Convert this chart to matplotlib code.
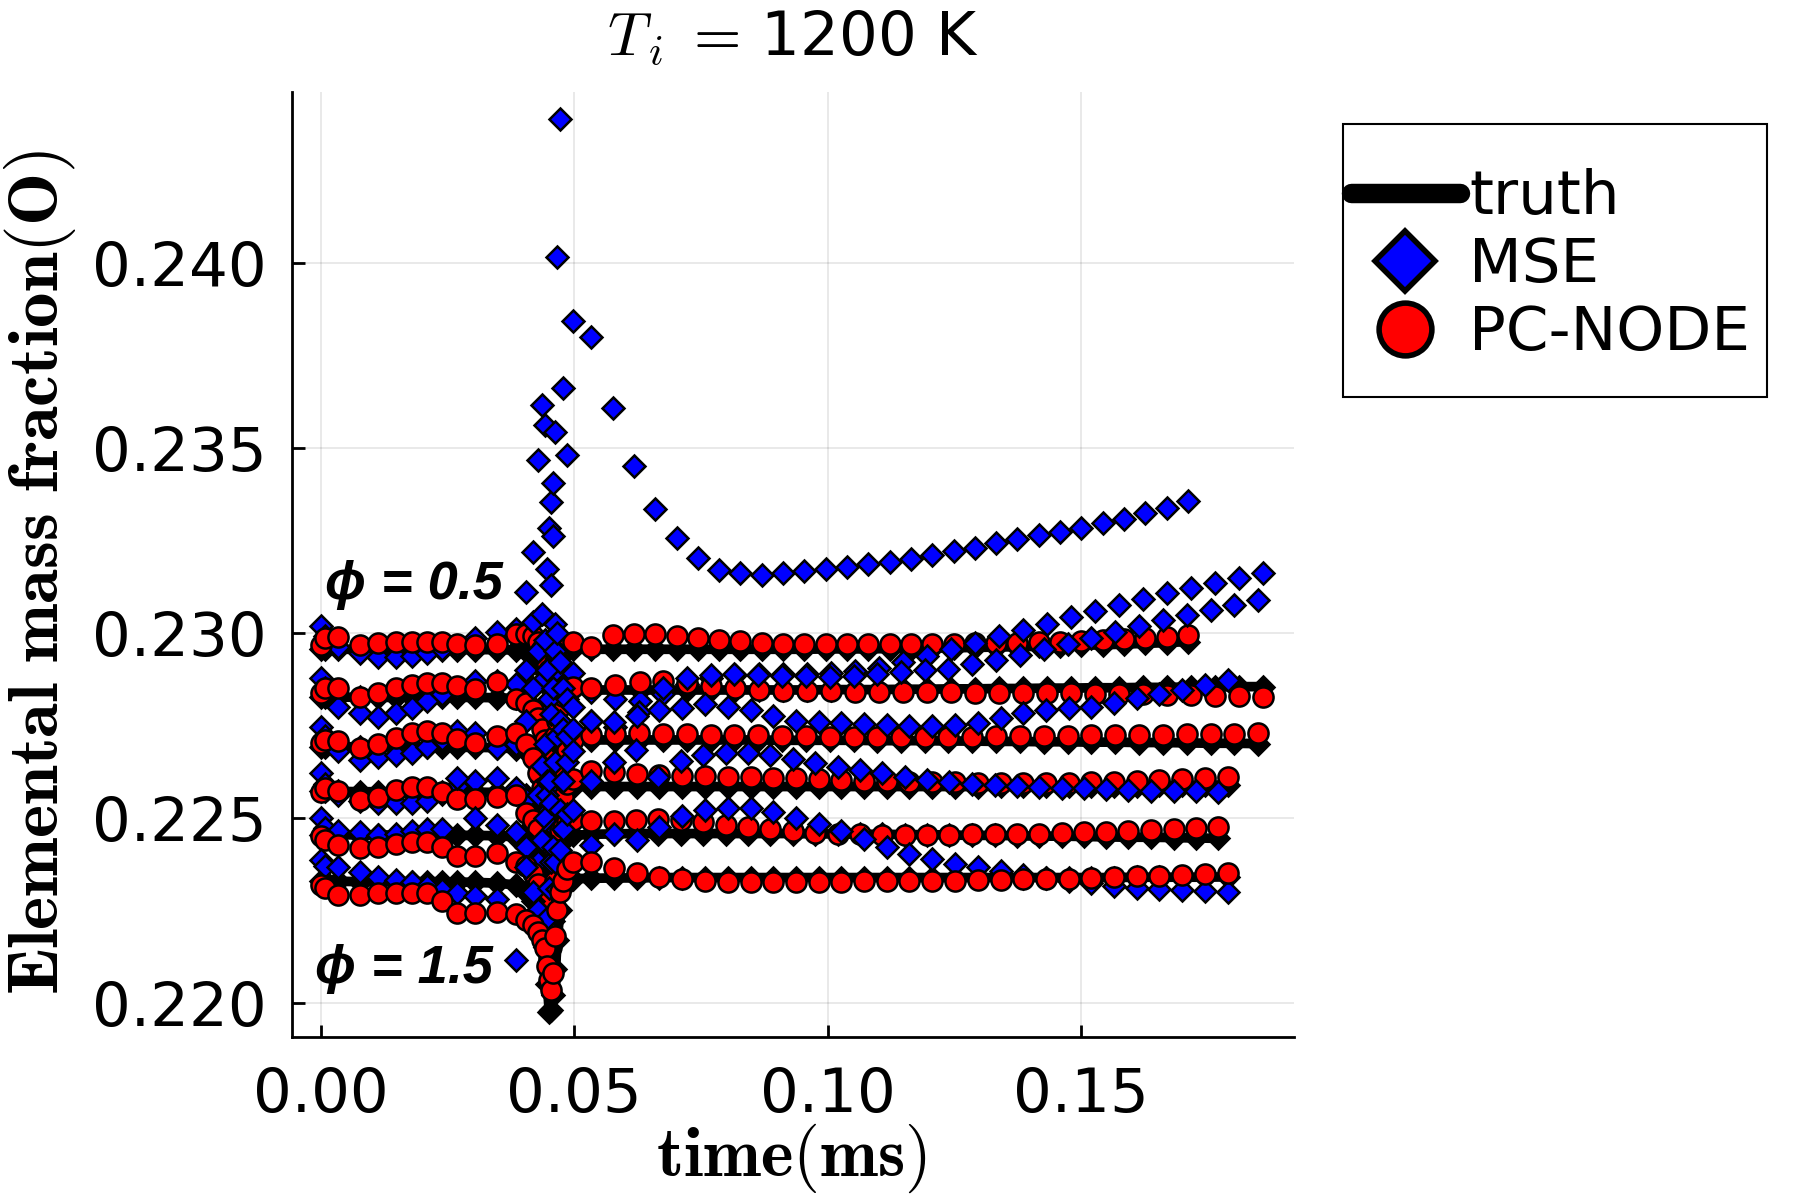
import matplotlib
matplotlib.use("Agg")
import matplotlib.pyplot as plt
from matplotlib.lines import Line2D
from matplotlib.patches import Rectangle

plt.rcParams['mathtext.fontset'] = 'cm'
plt.rcParams['font.family'] = ['DejaVu Sans']

# ---------------- data (time in ms) ----------------
t_pre = [0.0000, 0.0009, 0.0035, 0.0078, 0.0114, 0.0148, 0.0180, 0.0209, 0.0239, 0.0270, 0.0304, 0.0347, 0.0386]
t_ign = [0.0405, 0.0418, 0.0428, 0.0436, 0.0442, 0.0447, 0.0451, 0.0455, 0.0459, 0.0463, 0.0467, 0.0472, 0.0478, 0.0486, 0.0497]

t_post_05 = [0.0534, 0.0576, 0.0618, 0.0660, 0.0702, 0.0744, 0.0786, 0.0828, 0.0870, 0.0912, 0.0954, 0.0996, 0.1038, 0.1080, 0.1122,
             0.1164, 0.1206, 0.1248, 0.1290, 0.1332, 0.1374, 0.1416, 0.1458, 0.1500, 0.1542, 0.1584, 0.1626, 0.1668, 0.1711]
t_post_07 = [0.0534, 0.0581, 0.0629, 0.0676, 0.0723, 0.0770, 0.0818, 0.0865, 0.0912, 0.0960, 0.1007, 0.1054, 0.1101, 0.1149, 0.1196,
             0.1243, 0.1291, 0.1338, 0.1385, 0.1432, 0.1480, 0.1527, 0.1574, 0.1622, 0.1669, 0.1716, 0.1763, 0.1811, 0.1858]
t_post_09 = [0.0534, 0.0581, 0.0628, 0.0675, 0.0722, 0.0769, 0.0816, 0.0863, 0.0910, 0.0957, 0.1004, 0.1051, 0.1098, 0.1145, 0.1191,
             0.1238, 0.1285, 0.1332, 0.1379, 0.1426, 0.1473, 0.1520, 0.1567, 0.1614, 0.1661, 0.1708, 0.1755, 0.1802, 0.1849]
t_post_11 = [0.0534, 0.0579, 0.0624, 0.0668, 0.0713, 0.0758, 0.0803, 0.0848, 0.0893, 0.0937, 0.0982, 0.1027, 0.1072, 0.1117, 0.1161,
             0.1206, 0.1251, 0.1296, 0.1341, 0.1386, 0.1430, 0.1475, 0.1520, 0.1565, 0.1610, 0.1654, 0.1699, 0.1744, 0.1789]
t_post_13 = [0.0534, 0.0578, 0.0622, 0.0666, 0.0711, 0.0755, 0.0799, 0.0843, 0.0887, 0.0931, 0.0975, 0.1020, 0.1064, 0.1108, 0.1152,
             0.1196, 0.1240, 0.1284, 0.1329, 0.1373, 0.1417, 0.1461, 0.1505, 0.1549, 0.1593, 0.1638, 0.1682, 0.1726, 0.1770]
t_post_15 = [0.0534, 0.0579, 0.0624, 0.0668, 0.0713, 0.0758, 0.0803, 0.0848, 0.0893, 0.0937, 0.0982, 0.1027, 0.1072, 0.1117, 0.1161,
             0.1206, 0.1251, 0.1296, 0.1341, 0.1386, 0.1430, 0.1475, 0.1520, 0.1565, 0.1610, 0.1654, 0.1699, 0.1744, 0.1789]

# phi = 0.5
truth_05 = [0.22955, 0.22955, 0.22955, 0.22955, 0.22954, 0.22954, 0.22954, 0.22954, 0.22954, 0.22954, 0.22954, 0.22954, 0.22953,
            0.22950, 0.22944, 0.22932, 0.22915, 0.22898, 0.22887, 0.22882, 0.22884, 0.22894, 0.22910, 0.22930, 0.22945, 0.22952, 0.22954, 0.22955,
            0.22955, 0.22955, 0.22955, 0.22955, 0.22955, 0.22955, 0.22955, 0.22955, 0.22955, 0.22955, 0.22955, 0.22956, 0.22956, 0.22956, 0.22957,
            0.22957, 0.22958, 0.22959, 0.22960, 0.22961, 0.22962, 0.22963, 0.22964, 0.22966, 0.22967, 0.22969, 0.22971, 0.22973, 0.22976]
mse_05 = [0.23017, 0.22990, 0.22960, 0.22945, 0.22935, 0.22935, 0.22938, 0.22945, 0.22955, 0.22965, 0.22985, 0.23003, 0.23010,
          0.23110, 0.23219, 0.23467, 0.23615, 0.23561, 0.23172, 0.23283, 0.23354, 0.23404, 0.23543, 0.24016, 0.24388, 0.23660, 0.23480, 0.23843,
          0.23799, 0.23608, 0.23449, 0.23334, 0.23256, 0.23203, 0.23169, 0.23160, 0.23157, 0.23160, 0.23166, 0.23172, 0.23178, 0.23185, 0.23192,
          0.23200, 0.23210, 0.23220, 0.23230, 0.23241, 0.23252, 0.23263, 0.23273, 0.23284, 0.23296, 0.23308, 0.23322, 0.23338, 0.23357]
node_05 = [0.22967, 0.22985, 0.22989, 0.22967, 0.22971, 0.22976, 0.22976, 0.22976, 0.22974, 0.22968, 0.22966, 0.22970, 0.22997,
           0.22995, 0.22990, 0.22975, 0.22955, 0.22935, 0.22915, 0.22900, 0.22895, 0.22905, 0.22920, 0.22940, 0.22955, 0.22965, 0.22972, 0.22975,
           0.22962, 0.22993, 0.22997, 0.22996, 0.22991, 0.22986, 0.22981, 0.22977, 0.22973, 0.22970, 0.22969, 0.22968, 0.22968, 0.22968, 0.22969,
           0.22969, 0.22970, 0.22970, 0.22971, 0.22972, 0.22973, 0.22974, 0.22975, 0.22977, 0.22979, 0.22982, 0.22985, 0.22989, 0.22994]

# phi = 0.7
truth_07 = [0.22826, 0.22826, 0.22826, 0.22825, 0.22825, 0.22825, 0.22825, 0.22825, 0.22825, 0.22825, 0.22825, 0.22824, 0.22822,
            0.22815, 0.22800, 0.22780, 0.22750, 0.22710, 0.22665, 0.22640, 0.22650, 0.22690, 0.22740, 0.22790, 0.22825, 0.22840, 0.22845, 0.22845,
            0.22845, 0.22845, 0.22845, 0.22845, 0.22845, 0.22845, 0.22845, 0.22845, 0.22845, 0.22845, 0.22846, 0.22846, 0.22846, 0.22847, 0.22847,
            0.22848, 0.22848, 0.22849, 0.22849, 0.22850, 0.22850, 0.22851, 0.22851, 0.22852, 0.22852, 0.22853, 0.22853, 0.22854, 0.22854]
mse_07 = [0.22877, 0.22850, 0.22800, 0.22782, 0.22773, 0.22782, 0.22796, 0.22814, 0.22835, 0.22850, 0.22868, 0.22868, 0.22860,
          0.22900, 0.23030, 0.22950, 0.22870, 0.22800, 0.22760, 0.22900, 0.23129, 0.23262, 0.23023, 0.22950, 0.22880, 0.22850, 0.22870, 0.22890,
          0.22840, 0.22820, 0.22815, 0.22835, 0.22862, 0.22878, 0.22886, 0.22888, 0.22888, 0.22888, 0.22890, 0.22895, 0.22905, 0.22920, 0.22937,
          0.22955, 0.22973, 0.22990, 0.23007, 0.23024, 0.23041, 0.23058, 0.23075, 0.23091, 0.23106, 0.23120, 0.23134, 0.23148, 0.23161]
node_07 = [0.22836, 0.22850, 0.22849, 0.22827, 0.22836, 0.22850, 0.22859, 0.22864, 0.22864, 0.22855, 0.22848, 0.22866, 0.22820,
           0.22810, 0.22790, 0.22770, 0.22740, 0.22710, 0.22680, 0.22660, 0.22650, 0.22680, 0.22720, 0.22760, 0.22800, 0.22830, 0.22845, 0.22852,
           0.22850, 0.22859, 0.22866, 0.22868, 0.22864, 0.22856, 0.22849, 0.22845, 0.22843, 0.22842, 0.22841, 0.22840, 0.22840, 0.22840, 0.22839,
           0.22839, 0.22838, 0.22838, 0.22837, 0.22837, 0.22836, 0.22835, 0.22834, 0.22833, 0.22832, 0.22831, 0.22830, 0.22829, 0.22827]

# phi = 0.9
truth_09 = [0.22692, 0.22692, 0.22692, 0.22691, 0.22691, 0.22691, 0.22691, 0.22691, 0.22691, 0.22690, 0.22690, 0.22689, 0.22686,
            0.22680, 0.22665, 0.22640, 0.22600, 0.22550, 0.22495, 0.22470, 0.22480, 0.22520, 0.22580, 0.22640, 0.22690, 0.22708, 0.22710, 0.22710,
            0.22710, 0.22710, 0.22710, 0.22710, 0.22710, 0.22710, 0.22710, 0.22710, 0.22709, 0.22709, 0.22709, 0.22709, 0.22708, 0.22708, 0.22708,
            0.22707, 0.22707, 0.22706, 0.22706, 0.22705, 0.22705, 0.22704, 0.22704, 0.22703, 0.22703, 0.22702, 0.22701, 0.22701, 0.22700]
mse_09 = [0.22746, 0.22720, 0.22680, 0.22656, 0.22665, 0.22670, 0.22674, 0.22692, 0.22712, 0.22734, 0.22730, 0.22688, 0.22700,
          0.22760, 0.22850, 0.22950, 0.23050, 0.22980, 0.22900, 0.22820, 0.22780, 0.22850, 0.22950, 0.23000, 0.22920, 0.22850, 0.22820, 0.22800,
          0.22760, 0.22745, 0.22785, 0.22850, 0.22878, 0.22886, 0.22887, 0.22886, 0.22884, 0.22882, 0.22881, 0.22882, 0.22888, 0.22893, 0.22898,
          0.22902, 0.22915, 0.22925, 0.22940, 0.22956, 0.22969, 0.22986, 0.23002, 0.23018, 0.23033, 0.23047, 0.23061, 0.23075, 0.23088]
node_09 = [0.22701, 0.22710, 0.22706, 0.22689, 0.22698, 0.22716, 0.22729, 0.22734, 0.22730, 0.22712, 0.22701, 0.22720, 0.22729,
           0.22700, 0.22660, 0.22620, 0.22580, 0.22540, 0.22500, 0.22470, 0.22450, 0.22480, 0.22530, 0.22580, 0.22625, 0.22634, 0.22683, 0.22710,
           0.22722, 0.22726, 0.22728, 0.22727, 0.22725, 0.22724, 0.22723, 0.22722, 0.22721, 0.22720, 0.22719, 0.22719, 0.22719, 0.22719, 0.22719,
           0.22719, 0.22719, 0.22720, 0.22720, 0.22721, 0.22721, 0.22722, 0.22723, 0.22724, 0.22724, 0.22725, 0.22726, 0.22727, 0.22728]

# phi = 1.1
truth_11 = [0.22571, 0.22571, 0.22571, 0.22570, 0.22570, 0.22570, 0.22570, 0.22570, 0.22570, 0.22570, 0.22569, 0.22568, 0.22565,
            0.22560, 0.22545, 0.22520, 0.22480, 0.22420, 0.22355, 0.22320, 0.22330, 0.22380, 0.22450, 0.22520, 0.22565, 0.22580, 0.22584, 0.22584,
            0.22584, 0.22584, 0.22584, 0.22584, 0.22584, 0.22584, 0.22584, 0.22584, 0.22584, 0.22584, 0.22584, 0.22584, 0.22584, 0.22584, 0.22584,
            0.22584, 0.22584, 0.22584, 0.22585, 0.22585, 0.22585, 0.22585, 0.22586, 0.22586, 0.22586, 0.22587, 0.22587, 0.22588, 0.22588]
mse_11 = [0.22620, 0.22590, 0.22560, 0.22545, 0.22539, 0.22539, 0.22539, 0.22545, 0.22565, 0.22585, 0.22600, 0.22606, 0.22580,
          0.22550, 0.22480, 0.22560, 0.22640, 0.22700, 0.22600, 0.22520, 0.22480, 0.22560, 0.22650, 0.22720, 0.22760, 0.22740, 0.22720, 0.22740,
          0.22760, 0.22758, 0.22775, 0.22792, 0.22797, 0.22806, 0.22800, 0.22790, 0.22775, 0.22762, 0.22758, 0.22755, 0.22752, 0.22749, 0.22747,
          0.22748, 0.22750, 0.22755, 0.22769, 0.22782, 0.22791, 0.22796, 0.22800, 0.22810, 0.22822, 0.22834, 0.22846, 0.22859, 0.22872]
node_11 = [0.22570, 0.22579, 0.22572, 0.22548, 0.22557, 0.22575, 0.22584, 0.22584, 0.22570, 0.22550, 0.22550, 0.22557, 0.22560,
           0.22512, 0.22494, 0.22470, 0.22430, 0.22380, 0.22330, 0.22300, 0.22320, 0.22380, 0.22440, 0.22476, 0.22510, 0.22557, 0.22590, 0.22605,
           0.22625, 0.22622, 0.22618, 0.22615, 0.22613, 0.22612, 0.22611, 0.22610, 0.22608, 0.22606, 0.22604, 0.22602, 0.22600, 0.22598, 0.22597,
           0.22596, 0.22595, 0.22594, 0.22593, 0.22593, 0.22593, 0.22594, 0.22595, 0.22597, 0.22599, 0.22602, 0.22605, 0.22608, 0.22611]

# phi = 1.3
truth_13 = [0.22454, 0.22454, 0.22454, 0.22453, 0.22453, 0.22453, 0.22453, 0.22453, 0.22453, 0.22452, 0.22452, 0.22451, 0.22448,
            0.22440, 0.22420, 0.22390, 0.22340, 0.22270, 0.22195, 0.22160, 0.22170, 0.22220, 0.22300, 0.22380, 0.22430, 0.22448, 0.22450, 0.22452,
            0.22455, 0.22456, 0.22457, 0.22457, 0.22457, 0.22457, 0.22457, 0.22457, 0.22457, 0.22457, 0.22456, 0.22456, 0.22455, 0.22455, 0.22454,
            0.22454, 0.22453, 0.22452, 0.22452, 0.22451, 0.22450, 0.22450, 0.22449, 0.22448, 0.22447, 0.22447, 0.22446, 0.22445, 0.22444]
mse_13 = [0.22500, 0.22473, 0.22465, 0.22460, 0.22453, 0.22455, 0.22465, 0.22470, 0.22468, 0.22606, 0.22500, 0.22481, 0.22460,
          0.22420, 0.22350, 0.22380, 0.22440, 0.22500, 0.22560, 0.22600, 0.22540, 0.22470, 0.22420, 0.22466, 0.22520, 0.22600, 0.22650, 0.22680,
          0.22600, 0.22650, 0.22683, 0.22611, 0.22652, 0.22670, 0.22674, 0.22674, 0.22668, 0.22658, 0.22647, 0.22636, 0.22629, 0.22620, 0.22611,
          0.22602, 0.22596, 0.22591, 0.22588, 0.22585, 0.22582, 0.22580, 0.22579, 0.22577, 0.22575, 0.22573, 0.22572, 0.22571, 0.22570]
node_13 = [0.22449, 0.22440, 0.22426, 0.22417, 0.22421, 0.22430, 0.22435, 0.22435, 0.22421, 0.22395, 0.22395, 0.22404, 0.22380,
           0.22368, 0.22350, 0.22320, 0.22270, 0.22210, 0.22150, 0.22120, 0.22150, 0.22230, 0.22330, 0.22421, 0.22466, 0.22476, 0.22490, 0.22494,
           0.22491, 0.22490, 0.22494, 0.22496, 0.22494, 0.22488, 0.22480, 0.22474, 0.22468, 0.22463, 0.22459, 0.22456, 0.22455, 0.22454, 0.22454,
           0.22454, 0.22454, 0.22455, 0.22455, 0.22456, 0.22457, 0.22458, 0.22460, 0.22462, 0.22464, 0.22467, 0.22470, 0.22473, 0.22476]

# phi = 1.5
truth_15 = [0.22328, 0.22328, 0.22328, 0.22327, 0.22327, 0.22327, 0.22327, 0.22327, 0.22327, 0.22326, 0.22325, 0.22323, 0.22318,
            0.22300, 0.22275, 0.22250, 0.22215, 0.22150, 0.22050, 0.21975, 0.21980, 0.22020, 0.22090, 0.22170, 0.22250, 0.22310, 0.22332, 0.22335,
            0.22336, 0.22337, 0.22337, 0.22338, 0.22338, 0.22338, 0.22338, 0.22338, 0.22338, 0.22338, 0.22338, 0.22338, 0.22338, 0.22338, 0.22338,
            0.22338, 0.22338, 0.22338, 0.22338, 0.22338, 0.22338, 0.22338, 0.22338, 0.22338, 0.22339, 0.22339, 0.22339, 0.22339, 0.22340]
mse_15 = [0.22386, 0.22370, 0.22366, 0.22354, 0.22340, 0.22332, 0.22325, 0.22314, 0.22305, 0.22295, 0.22287, 0.22280, 0.22115,
          0.22366, 0.22300, 0.22250, 0.22200, 0.22150, 0.22230, 0.22310, 0.22380, 0.22420, 0.22380, 0.22306, 0.22413, 0.22470, 0.22510, 0.22520,
          0.22426, 0.22457, 0.22440, 0.22476, 0.22505, 0.22520, 0.22527, 0.22526, 0.22516, 0.22500, 0.22484, 0.22465, 0.22442, 0.22420, 0.22402,
          0.22388, 0.22376, 0.22366, 0.22356, 0.22346, 0.22337, 0.22329, 0.22322, 0.22316, 0.22311, 0.22307, 0.22304, 0.22302, 0.22300]
node_15 = [0.22318, 0.22310, 0.22292, 0.22292, 0.22297, 0.22297, 0.22297, 0.22295, 0.22274, 0.22243, 0.22243, 0.22246, 0.22240,
           0.22224, 0.22210, 0.22190, 0.22170, 0.22147, 0.22100, 0.22060, 0.22034, 0.22080, 0.22180, 0.22250, 0.22300, 0.22330, 0.22360, 0.22381,
           0.22381, 0.22363, 0.22350, 0.22340, 0.22333, 0.22329, 0.22327, 0.22327, 0.22327, 0.22327, 0.22327, 0.22327, 0.22328, 0.22328, 0.22329,
           0.22329, 0.22330, 0.22331, 0.22332, 0.22333, 0.22334, 0.22335, 0.22337, 0.22339, 0.22341, 0.22343, 0.22345, 0.22347, 0.22350]

x_ticks = [0.00, 0.05, 0.10, 0.15]
x_tick_labels = ['0.00', '0.05', '0.10', '0.15']
y_ticks = [0.220, 0.225, 0.230, 0.235, 0.240]
y_tick_labels = ['0.220', '0.225', '0.230', '0.235', '0.240']
legend_labels = ['truth', 'MSE', 'PC-NODE']
phi_texts = ['ϕ = 0.5', 'ϕ = 1.5']

cases = [
    (t_post_05, truth_05, mse_05, node_05),
    (t_post_07, truth_07, mse_07, node_07),
    (t_post_09, truth_09, mse_09, node_09),
    (t_post_11, truth_11, mse_11, node_11),
    (t_post_13, truth_13, mse_13, node_13),
    (t_post_15, truth_15, mse_15, node_15),
]

# ---------------- figure ----------------
fig = plt.figure(figsize=(18, 12), dpi=100)
ax = fig.add_axes([0.162, 0.1358, 0.5568, 0.7875])

BLUE = '#0000ff'
RED = '#ff0000'
for tp, tr, ms_, nd in cases:
    t = t_pre + t_ign + tp
    ax.plot(t, tr, color='black', lw=7, solid_joinstyle='round', solid_capstyle='round',
            marker='D', ms=11, mfc='black', mec='black', mew=1.8)
    ax.plot(t, ms_, ls='none', marker='D', ms=11.5, mfc=BLUE, mec='black', mew=1.8)
    ax.plot(t, nd, ls='none', marker='o', ms=14.5, mfc=RED, mec='black', mew=1.8)

ax.set_xlim(-0.0057, 0.1919)
ax.set_ylim(0.21907, 0.24461)
ax.set_xticks(x_ticks)
ax.set_xticklabels(x_tick_labels)
ax.set_yticks(y_ticks)
ax.set_yticklabels(y_tick_labels)
ax.grid(True, color='black', alpha=0.1, lw=1.2)
ax.set_axisbelow(True)
for s in ['top', 'right']:
    ax.spines[s].set_visible(False)
for s in ['left', 'bottom']:
    ax.spines[s].set_linewidth(2)
ax.tick_params(axis='both', direction='in', length=9, width=2, labelsize=44)
ax.tick_params(axis='x', pad=21)
ax.tick_params(axis='y', pad=18)

# phi annotations
phi_font = ['Liberation Sans', 'DejaVu Sans']
ax.text(0.0008, 0.23092, phi_texts[0], fontsize=39, fontweight='bold', fontstyle='italic',
        family=phi_font, ha='left', va='baseline', zorder=10)
ax.text(-0.0010, 0.22052, phi_texts[1], fontsize=39, fontweight='bold', fontstyle='italic',
        family=phi_font, ha='left', va='baseline', zorder=10)

# title and axis labels
fig.text(793 / 1800, 1 - 55 / 1200, r'$T_{\,i}\;=\,$1200 K', fontsize=44, ha='center', va='baseline')
fig.text(40 / 1800, 1 - 572 / 1200, r'$\mathbf{Elemental\ mass\ fraction(O)}$', rotation=90,
         fontsize=51, ha='center', va='center')
fig.text(791 / 1800, 1 - 1158 / 1200, r'$\mathbf{time(ms)}$', fontsize=50, ha='center', va='center')

# legend: frame drawn as a figure rectangle, entries placed inside it
frame = Rectangle((1343 / 1800, 1 - 397 / 1200), (1767 - 1343) / 1800, (397 - 124) / 1200,
                  transform=fig.transFigure, facecolor='white', edgecolor='black', lw=1.5, zorder=5)
fig.add_artist(frame)
h_truth = Line2D([], [], color='black', lw=14, solid_capstyle='round')
h_mse = Line2D([], [], ls='none', marker='D', ms=31, mfc=BLUE, mec='black', mew=4)
h_node = Line2D([], [], ls='none', marker='o', ms=38, mfc=RED, mec='black', mew=4)
leg = fig.legend([h_truth, h_mse, h_node], legend_labels, loc='upper left',
                 bbox_to_anchor=(1351 / 1800, 1 - 168 / 1200), bbox_transform=fig.transFigure,
                 fontsize=44, frameon=False, handlelength=1.78, handletextpad=0.15,
                 borderpad=0.0, labelspacing=0.15, borderaxespad=0)
leg.set_zorder(6)

fig.savefig('out.png', dpi=100, facecolor='white')
